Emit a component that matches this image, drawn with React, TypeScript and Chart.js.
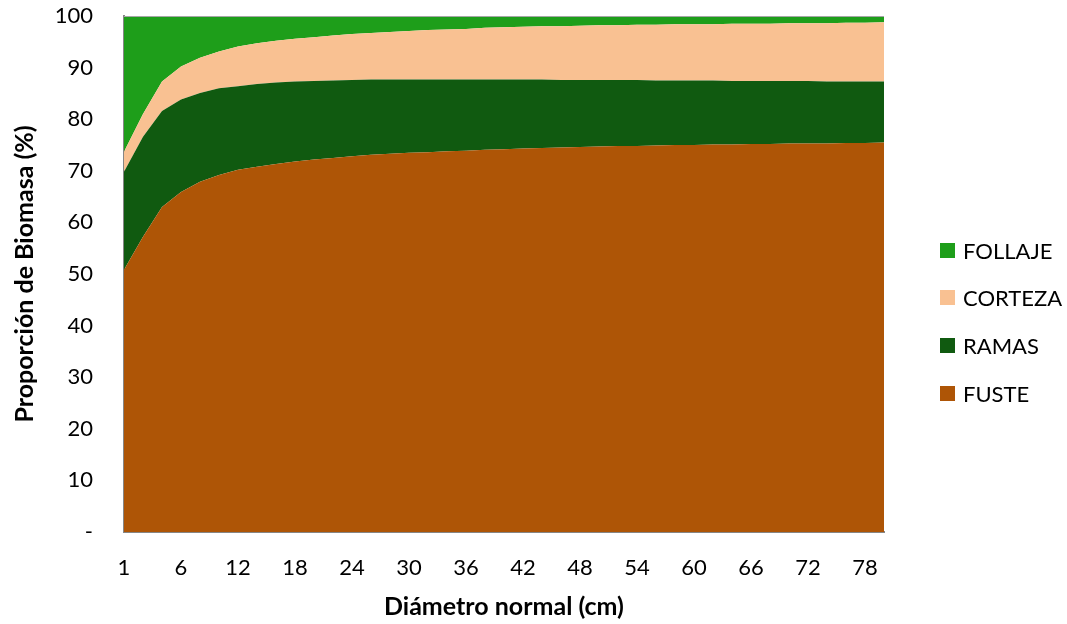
import React, { useEffect, useRef } from "react";
import { Chart, registerables } from "chart.js";

Chart.register(...registerables);

const categories = [
  "1", "2", "4", "6", "8", "10", "12", "14", "16", "18", "20", "22", "24", "26", "28", "30",
  "32", "34", "36", "38", "40", "42", "44", "46", "48", "50", "52", "54", "56", "58", "60",
  "62", "64", "66", "68", "70", "72", "74", "76", "78", "80",
];

const fuste = [
  50.8, 57.2, 63.0, 65.9, 67.9, 69.2, 70.2, 70.8, 71.3, 71.8, 72.2, 72.5, 72.8, 73.1, 73.3, 73.5,
  73.6, 73.8, 73.9, 74.1, 74.2, 74.3, 74.4, 74.5, 74.6, 74.7, 74.8, 74.8, 74.9, 75.0, 75.0,
  75.1, 75.1, 75.2, 75.2, 75.3, 75.3, 75.3, 75.4, 75.4, 75.5,
];

const ramas = [
  19.0, 19.4, 18.6, 17.9, 17.2, 16.8, 16.2, 16.0, 15.8, 15.5, 15.2, 15.0, 14.8, 14.6, 14.4, 14.2,
  14.1, 13.9, 13.8, 13.6, 13.5, 13.4, 13.3, 13.1, 13.0, 12.9, 12.8, 12.8, 12.6, 12.5, 12.5,
  12.4, 12.3, 12.2, 12.2, 12.1, 12.1, 12.0, 11.9, 11.9, 11.8,
];

const corteza = [
  3.9, 4.4, 5.7, 6.4, 6.8, 7.1, 7.7, 7.9, 8.1, 8.3, 8.5, 8.7, 8.9, 9.0, 9.2, 9.4,
  9.6, 9.7, 9.8, 10.0, 10.1, 10.2, 10.3, 10.4, 10.5, 10.6, 10.6, 10.7, 10.8, 10.9, 10.9,
  10.9, 11.1, 11.1, 11.1, 11.2, 11.2, 11.3, 11.4, 11.4, 11.5,
];

const follaje = [
  26.3, 19.0, 12.7, 9.8, 8.1, 6.9, 5.9, 5.3, 4.8, 4.4, 4.1, 3.8, 3.5, 3.3, 3.1, 2.9,
  2.7, 2.6, 2.5, 2.3, 2.2, 2.1, 2.0, 2.0, 1.9, 1.8, 1.8, 1.7, 1.7, 1.6, 1.6,
  1.6, 1.5, 1.5, 1.5, 1.4, 1.4, 1.4, 1.3, 1.3, 1.2,
];

const yTicks = [0, 10, 20, 30, 40, 50, 60, 70, 80, 90, 100];

const COLORS = {
  FOLLAJE: "#1E9E1A",
  CORTEZA: "#F9C192",
  RAMAS: "#105A10",
  FUSTE: "#AE5506",
};

const legendItems = [
  { label: "FOLLAJE", color: COLORS.FOLLAJE },
  { label: "CORTEZA", color: COLORS.CORTEZA },
  { label: "RAMAS", color: COLORS.RAMAS },
  { label: "FUSTE", color: COLORS.FUSTE },
];

const FONT = "Lato, 'Open Sans', sans-serif";

export default function App() {
  const ref = useRef<HTMLCanvasElement>(null);

  useEffect(() => {
    if (!ref.current) return;
    const mk = (label: string, data: number[], color: string, fill: string | boolean) => ({
      label,
      data,
      backgroundColor: color,
      borderColor: color,
      borderWidth: 0,
      pointRadius: 0,
      tension: 0,
      fill,
    });
    const topLine = {
      id: "topLine",
      afterDatasetsDraw(chart: any) {
        const { ctx, chartArea } = chart;
        ctx.save();
        ctx.strokeStyle = "#A6A6A6";
        ctx.lineWidth = 1;
        ctx.beginPath();
        ctx.moveTo(chartArea.left, chartArea.top + 0.5);
        ctx.lineTo(chartArea.right, chartArea.top + 0.5);
        ctx.stroke();
        ctx.restore();
      },
    };
    const chart = new Chart(ref.current, {
      type: "line",
      data: {
        labels: categories,
        datasets: [
          mk("FUSTE", fuste, COLORS.FUSTE, "origin"),
          mk("RAMAS", ramas, COLORS.RAMAS, "-1"),
          mk("CORTEZA", corteza, COLORS.CORTEZA, "-1"),
          mk("FOLLAJE", follaje, COLORS.FOLLAJE, "-1"),
        ],
      },
      plugins: [topLine],
      options: {
        responsive: false,
        animation: false,
        layout: { padding: { left: 0, right: 183, top: 16, bottom: 0 } },
        plugins: {
          legend: { display: false },
          tooltip: { enabled: false },
          filler: { propagate: false },
        },
        scales: {
          x: {
            z: 1,
            offset: false,
            grid: { display: false, drawTicks: false, tickLength: 0 },
            border: { display: true, color: "#868686", width: 2 },
            ticks: {
              autoSkip: false,
              maxRotation: 0,
              minRotation: 0,
              padding: 23,
              color: "#000",
              font: { family: FONT, size: 22 },
              callback: (_v: any, i: number) => (i % 3 === 0 ? categories[i] : ""),
            },
            title: {
              display: true,
              text: "Diámetro normal (cm)",
              color: "#000",
              font: { family: FONT, size: 25, weight: "bold" },
              padding: { top: 0, bottom: 2 },
            },
            afterFit: (s: any) => {
              s.height = 92;
              s.paddingLeft = 0;
              s.paddingRight = 0;
            },
          },
          y: {
            z: 1,
            stacked: true,
            min: 0,
            max: 100,
            grid: { display: false, drawTicks: false, tickLength: 0 },
            border: { display: true, color: "#868686", width: 2 },
            afterBuildTicks: (s: any) => {
              s.ticks = yTicks.map((v) => ({ value: v }));
            },
            ticks: {
              padding: 31,
              color: "#000",
              font: { family: FONT, size: 22 },
              callback: (v: any) => (Number(v) === 0 ? "-" : String(v)),
            },
            title: {
              display: true,
              text: "Proporción de Biomasa (%)",
              color: "#000",
              font: { family: FONT, size: 25, weight: "bold" },
              padding: { top: 10, bottom: 0 },
            },
            afterFit: (s: any) => {
              s.width = 124;
              s.paddingTop = 0;
              s.paddingBottom = 0;
            },
          },
        },
      },
    } as any);
    return () => chart.destroy();
  }, []);

  return (
    <div style={{ position: "fixed", left: 0, top: 0, width: 1067, height: 624, background: "#fff" }}>
      <canvas ref={ref} width={1067} height={624} style={{ display: "block" }} />
      {legendItems.map((it, i) => (
        <div
          key={it.label}
          style={{
            position: "absolute",
            left: 940,
            top: 250 + i * 47.7 - 13,
            height: 26,
            display: "flex",
            alignItems: "center",
            fontFamily: FONT,
            fontSize: 22,
            color: "#000",
            whiteSpace: "nowrap",
          }}
        >
          <span style={{ display: "inline-block", width: 15, height: 15, background: it.color, marginRight: 8 }} />
          <span>{it.label}</span>
        </div>
      ))}
    </div>
  );
}
